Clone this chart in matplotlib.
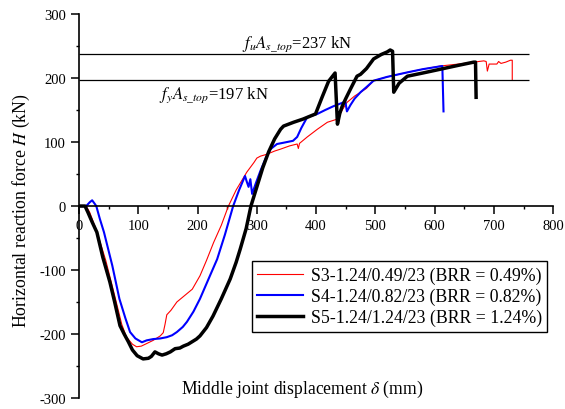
import numpy as np
import matplotlib
matplotlib.use("Agg")
import matplotlib.pyplot as plt

plt.rcParams['font.family'] = ['Liberation Serif', 'DejaVu Serif']
plt.rcParams['mathtext.fontset'] = 'stix'
plt.rcParams['axes.unicode_minus'] = False

# S3-1.24/0.49/23 (BRR = 0.49%)
s3_x = [0, 12, 18, 30, 45, 60, 72, 80, 90, 97, 105, 114, 125, 137, 142, 145, 148,
        155, 165, 178, 191, 204, 215, 227, 240, 252, 265, 283, 295, 300, 306, 317,
        330, 340, 355, 368, 370, 372, 385, 402, 419, 436, 444, 452, 465, 475, 485,
        497, 520, 554, 580, 610, 640, 666, 683, 687, 689, 692, 705, 708, 712, 720,
        728, 731, 731]
s3_y = [0, 0, -10, -40, -85, -140, -185, -205, -216, -220, -219, -215, -210, -203,
        -198, -185, -170, -163, -150, -140, -130, -109, -85, -57, -30, 0, 25, 53,
        68, 75, 78, 81, 86, 89, 94, 97, 90, 98, 108, 120, 131, 136, 150, 162, 172,
        178, 184, 196, 202, 209, 214, 219, 222, 225, 227, 226, 211, 222, 222, 226,
        223, 225, 228, 228, 198]

# S4-1.24/0.82/23 (BRR = 0.82%)
s4_x = [0, 12, 18, 22, 26, 29, 35, 42, 56, 68, 78, 86, 95, 106, 114, 125, 137,
        148, 157, 165, 175, 182, 193, 204, 218, 233, 246, 260, 270, 280, 283, 286,
        289, 292, 298, 306, 315, 323, 334, 345, 361, 368, 375, 385, 402, 415, 429,
        446, 449, 452, 458, 465, 475, 485, 497, 520, 554, 580, 600, 613, 615]
s4_y = [0, 0, 6, 9, 4, 0, -20, -41, -93, -145, -175, -197, -207, -213, -210, -208,
        -207, -205, -202, -197, -189, -181, -165, -145, -115, -83, -45, 0, 25, 47,
        38, 30, 42, 19, 35, 55, 75, 89, 97, 99, 102, 108, 122, 139, 144, 150, 156,
        162, 165, 148, 158, 168, 178, 186, 196, 202, 209, 214, 217, 219, 148]

# S5-1.24/1.24/23 (BRR = 1.24%)
s5_x = [0, 10, 15, 22, 30, 40, 52, 60, 69, 76, 83, 90, 98, 108, 117, 122, 128,
        134, 140, 147, 154, 162, 170, 176, 184, 191, 198, 204, 215, 226, 240, 255,
        265, 272, 282, 290, 300, 310, 320, 330, 340, 345, 362, 378, 399, 410, 421,
        432, 436, 440, 444, 450, 458, 469, 475, 485, 497, 510, 520, 525, 529, 531,
        540, 554, 580, 610, 640, 666, 669, 670]
s5_y = [0, 0, -10, -25, -41, -80, -119, -150, -187, -200, -212, -225, -234, -239,
        -238, -235, -228, -231, -233, -231, -228, -223, -222, -219, -216, -212,
        -208, -203, -190, -172, -145, -114, -88, -67, -35, 0, 30, 60, 85, 105, 120,
        125, 131, 136, 144, 170, 195, 208, 128, 145, 156, 168, 183, 203, 206, 215,
        230, 237, 241, 244, 242, 178, 192, 203, 208, 214, 220, 225, 225, 170]

fu_force = 237
fy_force = 197

fig = plt.figure(figsize=(5.65, 4.10), dpi=100)
ax = fig.add_axes([0.140, 0.027, 0.839, 0.936])

ax.plot(s3_x, s3_y, color='red', lw=0.8, label='S3-1.24/0.49/23 (BRR = 0.49%)')
ax.plot(s4_x, s4_y, color='blue', lw=1.5, label='S4-1.24/0.82/23 (BRR = 0.82%)')
ax.plot(s5_x, s5_y, color='black', lw=2.5, label='S5-1.24/1.24/23 (BRR = 1.24%)')

# reference force lines
ax.hlines([fu_force, fy_force], 0, 760, color='black', lw=0.9)
ax.text(275, 250, r'$f_{u}A_{s\_top}$=' + f'{fu_force} kN', fontsize=12,
        ha='left', va='baseline')
ax.text(135, 170, r'$f_{y}A_{s\_top}$=' + f'{fy_force} kN', fontsize=12,
        ha='left', va='baseline')

ax.set_xlim(0, 800)
ax.set_ylim(-300, 300)
ax.set_xticks(np.arange(0, 801, 100))
ax.set_xticks(np.arange(0, 801, 50), minor=True)
ax.set_yticks(np.arange(-300, 301, 100))
ax.set_yticks(np.arange(-300, 301, 50), minor=True)

ax.spines['top'].set_visible(False)
ax.spines['right'].set_visible(False)
ax.spines['bottom'].set_position(('data', 0))
for s in ['left', 'bottom']:
    ax.spines[s].set_linewidth(1.2)
ax.tick_params(which='major', direction='out', length=6, width=1.1, labelsize=10.5)
ax.tick_params(which='minor', direction='out', length=2.5, width=1.0)

ax.set_ylabel('Horizontal reaction force $H$ (kN)', fontsize=12.8)
ax.yaxis.set_label_coords(-0.10, 0.49)
ax.text(0.47, 0.025, r'Middle joint displacement $\delta$ (mm)', fontsize=12.7,
        transform=ax.transAxes, ha='center', va='center')

leg = ax.legend(loc='upper right', bbox_to_anchor=(0.987, 0.356), fontsize=12.8,
                fancybox=False, edgecolor='black', framealpha=1,
                handlelength=2.6, handletextpad=0.4, labelspacing=0.22,
                borderpad=0.3, borderaxespad=0)
leg.get_frame().set_linewidth(1.0)

fig.savefig('out.png', dpi=100)
